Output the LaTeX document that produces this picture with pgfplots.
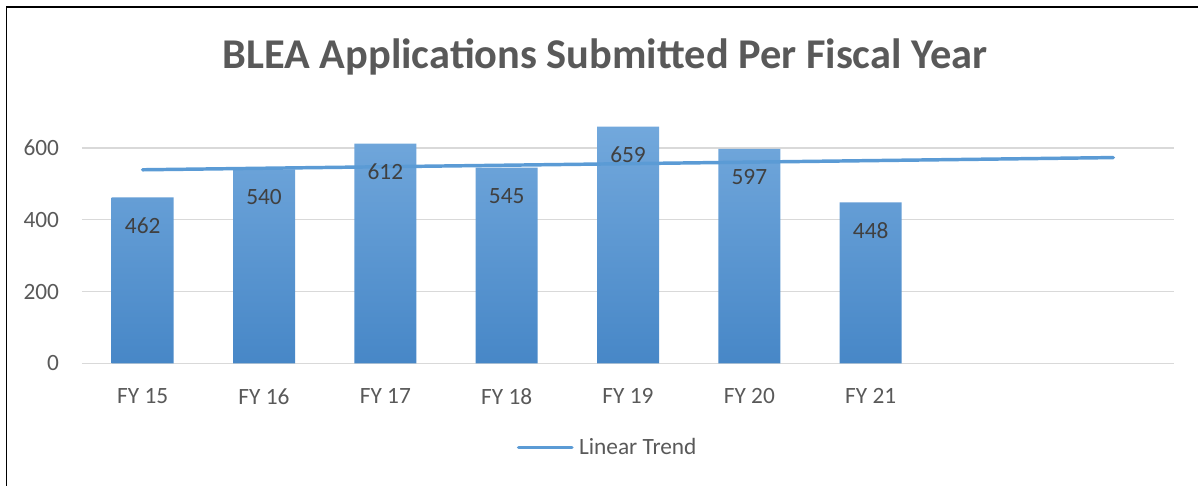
\documentclass[border=0pt]{standalone}
\usepackage{fontspec}
\setmainfont{Carlito}
\usepackage{pgfplots}
\pgfplotsset{compat=1.18}
\definecolor{titlegray}{HTML}{595959}
\definecolor{labgray}{HTML}{404040}
\definecolor{gridgray}{HTML}{D9D9D9}
\definecolor{trend}{HTML}{5B9BD5}
\definecolor{bartop}{HTML}{72A8DC}
\definecolor{barbot}{HTML}{4787C7}
\begin{document}
\begin{tikzpicture}
\path[use as bounding box] (0,0) rectangle (898.5pt,-363.75pt);
\draw[line width=1.4pt] (4.9pt,-370pt) -- (4.9pt,-5.4pt) -- (905pt,-5.4pt);
\node[font=\fontsize{31.8}{38}\selectfont\bfseries, text=titlegray] at (453.75pt,-42.5pt) {BLEA Applications Submitted Per Fiscal Year};
\begin{axis}[
  at={(61.5pt,-272.5pt)}, anchor=south west,
  scale only axis, width=819pt, height=188.5pt,
  xmin=-0.5, xmax=8.5, ymin=0, ymax=700,
  xtick={0,1,2,3,4,5,6},
  xticklabels={FY 15,FY 16,FY 17,FY 18,FY 19,FY 20,FY 21},
  ytick={0,200,400,600},
  ymajorgrids, grid style={gridgray, line width=1.1pt},
  axis line style={draw=none},
  major tick length=0pt,
  /pgf/number format/assume math mode=true,
  tick label style={font=\fontsize{17.5}{21}\selectfont, text=titlegray},
  yticklabel style={anchor=east, inner sep=0pt, xshift=-17pt},
  xticklabel style={anchor=north, inner sep=0pt, yshift=-18.5pt},
  legend style={at={(0.4817,-0.335)}, anchor=center, draw=none, fill=none,
    font=\fontsize{17.5}{21}\selectfont, text=titlegray, inner sep=0pt,
    /tikz/every odd column/.append style={column sep=2pt}},
  legend image code/.code={\draw[#1, line cap=round] (0pt,0pt) -- (40pt,0pt);},
  clip=false,
]
\addplot[ybar, bar width=46.5pt, draw=none, top color=bartop, bottom color=barbot,
  nodes near coords, forget plot,
  every node near coord/.append style={anchor=center, yshift=-21pt, text=labgray, font=\fontsize{17.5}{21}\selectfont},
] coordinates {(0,462) (1,540) (2,612) (3,545) (4,659) (5,597) (6,448)};
\addplot[trend, line width=2.6pt, line cap=round] coordinates {(0,539.11) (8,573.11)};
\addlegendentry{Linear Trend}
\end{axis}
\end{tikzpicture}
\end{document}
